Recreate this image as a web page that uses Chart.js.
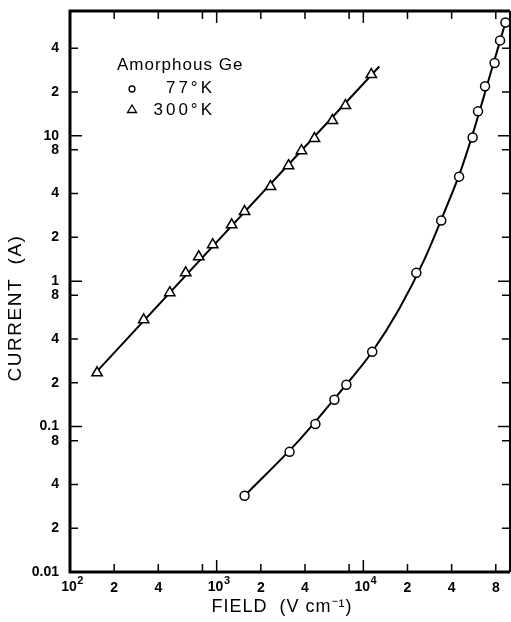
<!DOCTYPE html>
<html>
<head>
<meta charset="utf-8">
<script src="https://cdn.jsdelivr.net/npm/chart.js@4.4.0/dist/chart.umd.min.js"></script>
<style>
body { margin: 0; background: #fff; }
</style>
</head>
<body>
<canvas id="grafico" width="511" height="622"></canvas>
<script>
// measured points, 77 K (circles)
let field77 = [1550, 3140, 4710, 6350, 7660, 11500, 22970, 33970, 44960, 55620, 60540, 67570, 78520, 85540, 93140]
let current77 = [0.0334, 0.067, 0.104, 0.153, 0.194, 0.327, 1.14, 2.61, 5.23, 9.71, 14.7, 21.9, 31.6, 45.2, 60.0]

// measured points, 300 K (triangles)
let field300 = [153, 318, 479, 615, 755, 940, 1265, 1549, 2329, 3090, 3785, 4642, 6150, 7550, 11330]
let current300 = [0.234, 0.542, 0.832, 1.14, 1.47, 1.78, 2.44, 3.01, 4.47, 6.22, 7.88, 9.55, 12.7, 16.1, 26.3]

// drawn curves
let fit300Field = [143, 12850]
let fit300Current = [0.223, 29.9]
let fit77Field = [1549, 3669, 6866, 11500, 17580, 26000, 35560, 46430, 56880, 71970, 93960]
let fit77Current = [0.0334, 0.081, 0.1706, 0.327, 0.646, 1.40, 2.96, 5.85, 11.0, 24.7, 61.9]

// ticks (decade labels on x are drawn as 10 + exponent)
let xTickValues = [100, 200, 400, 800, 1000, 2000, 4000, 8000, 10000, 20000, 40000, 80000]
let xTickLabels = ['', '2', '4', '', '', '2', '4', '', '', '2', '4', '8']
let xDecades = [100, 1000, 10000]
let xDecadeExp = ['2', '3', '4']
let yTickValues = [0.01, 0.02, 0.04, 0.08, 0.1, 0.2, 0.4, 0.8, 1, 2, 4, 8, 10, 20, 40]
let yTickLabels = ['0.01', '2', '4', '8', '0.1', '2', '4', '8', '1', '2', '4', '8', '10', '2', '4']

let xTitle = 'FIELD  (V cm⁻¹)'
let yTitle = 'CURRENT  (A)'
let legendTitle = 'Amorphous Ge'
let legendLabels = ['77°K', '300°K']

function pares(xs, ys) {
    return xs.map((v, i) => ({ x: v, y: ys[i] }))
}

function isDecade(v) {
    let l = Math.log10(v)
    return Math.abs(l - Math.round(l)) < 1e-6
}

// frame with inward ticks on all four sides
let moldura = {
    id: 'moldura',
    beforeDatasetsDraw(chart) {
        let { ctx, chartArea: a, scales } = chart
        ctx.save()
        ctx.strokeStyle = '#000'
        ctx.lineWidth = 1.5
        ctx.beginPath()
        scales.x.ticks.forEach(t => {
            let px = scales.x.getPixelForValue(t.value)
            let len = isDecade(t.value) ? 12 : 8
            ctx.moveTo(px, a.bottom); ctx.lineTo(px, a.bottom - len)
            ctx.moveTo(px, a.top); ctx.lineTo(px, a.top + len)
        })
        scales.y.ticks.forEach(t => {
            let py = scales.y.getPixelForValue(t.value)
            let len = isDecade(t.value) ? 12 : 8
            ctx.moveTo(a.left, py); ctx.lineTo(a.left + len, py)
            ctx.moveTo(a.right, py); ctx.lineTo(a.right - len, py)
        })
        ctx.stroke()
        ctx.lineWidth = 3
        ctx.beginPath()
        ctx.moveTo(a.right, a.top)
        ctx.lineTo(a.left, a.top)
        ctx.lineTo(a.left, a.bottom)
        ctx.lineTo(a.right, a.bottom)
        ctx.stroke()
        ctx.lineWidth = 2
        ctx.beginPath()
        ctx.moveTo(a.right, a.top)
        ctx.lineTo(a.right, a.bottom)
        ctx.stroke()
        ctx.restore()
    }
}

// axis titles, decade labels and the legend box
let textos = {
    id: 'textos',
    afterDraw(chart) {
        let ctx = chart.ctx
        let a = chart.chartArea
        ctx.save()
        ctx.fillStyle = '#000'
        ctx.strokeStyle = '#000'

        // 10^n labels
        ctx.textBaseline = 'alphabetic'
        ctx.textAlign = 'left'
        xDecades.forEach((v, i) => {
            let px = chart.scales.x.getPixelForValue(v)
            ctx.font = 'bold 14px "Liberation Sans"'
            let w = ctx.measureText('10').width
            ctx.font = 'bold 11px "Liberation Sans"'
            let e = ctx.measureText(xDecadeExp[i]).width
            let x0 = px - (w + e) / 2 + 2
            ctx.font = 'bold 14px "Liberation Sans"'
            ctx.fillText('10', x0, a.bottom + 19)
            ctx.font = 'bold 11px "Liberation Sans"'
            ctx.fillText(xDecadeExp[i], x0 + w + 0.5, a.bottom + 12)
        })

        ctx.textBaseline = 'middle'
        ctx.font = '18px "Liberation Sans"'
        ctx.letterSpacing = '1px'
        ctx.textAlign = 'center'
        ctx.fillText(xTitle, 282, 607)
        ctx.save()
        ctx.translate(16, 308)
        ctx.rotate(-Math.PI / 2)
        ctx.font = '19px "Liberation Sans"'
        ctx.letterSpacing = '1.5px'
        ctx.fillText(yTitle, 0, 0)
        ctx.restore()

        ctx.font = '17px "Liberation Sans"'
        ctx.letterSpacing = '1px'
        ctx.textAlign = 'left'
        ctx.fillText(legendTitle, 117, 65)
        ctx.letterSpacing = '3px'
        ctx.textAlign = 'right'
        ctx.fillText(legendLabels[0], 215, 88)
        ctx.fillText(legendLabels[1], 215, 110)
        ctx.lineWidth = 1.3
        ctx.beginPath()
        ctx.arc(132, 89, 3, 0, Math.PI * 2)
        ctx.stroke()
        ctx.beginPath()
        ctx.moveTo(132, 105)
        ctx.lineTo(136.5, 112.5)
        ctx.lineTo(127.5, 112.5)
        ctx.closePath()
        ctx.stroke()
        ctx.restore()
    }
}

let tickFont = { family: '"Liberation Sans"', size: 14, weight: 'bold' }

let ctx = document.getElementById('grafico').getContext('2d')
new Chart(ctx, {
    type: 'scatter',
    data: {
        datasets: [{
            label: '77°K',
            data: pares(field77, current77),
            pointStyle: 'circle',
            pointRadius: 4.5,
            pointBorderWidth: 1.5,
            pointBackgroundColor: '#fff',
            pointBorderColor: '#000',
            showLine: false,
            clip: false,
            order: 1
        }, {
            label: '300°K',
            data: pares(field300, current300),
            pointStyle: 'triangle',
            pointRadius: 6,
            pointBorderWidth: 1.5,
            pointBackgroundColor: '#fff',
            pointBorderColor: '#000',
            showLine: false,
            order: 1
        }, {
            label: 'fit 300',
            data: pares(fit300Field, fit300Current),
            showLine: true,
            borderColor: '#000',
            borderWidth: 2,
            pointRadius: 0,
            order: 2
        }, {
            label: 'fit 77',
            data: pares(fit77Field, fit77Current),
            showLine: true,
            borderColor: '#000',
            borderWidth: 2,
            pointRadius: 0,
            cubicInterpolationMode: 'monotone',
            order: 2
        }]
    },
    options: {
        responsive: false,
        animation: false,
        layout: { autoPadding: false, padding: { top: 11, right: 1, left: 0, bottom: 0 } },
        plugins: {
            legend: { display: false },
            tooltip: { enabled: false }
        },
        scales: {
            x: {
                type: 'logarithmic',
                min: 100,
                max: 100000,
                afterFit: s => {
                    s.height = 50
                    s.paddingLeft = 0
                    s.paddingRight = 0
                },
                afterBuildTicks: s => { s.ticks = xTickValues.map(v => ({ value: v })) },
                grid: { display: false, drawTicks: false },
                border: { display: false },
                ticks: {
                    autoSkip: false,
                    maxRotation: 0,
                    padding: 8,
                    color: '#000',
                    font: tickFont,
                    callback: (v, i) => xTickLabels[i]
                }
            },
            y: {
                type: 'logarithmic',
                min: 0.01,
                max: 72,
                afterFit: s => {
                    s.width = 70
                    s.paddingTop = 0
                    s.paddingBottom = 0
                },
                afterBuildTicks: s => { s.ticks = yTickValues.map(v => ({ value: v })) },
                grid: { display: false, drawTicks: false },
                border: { display: false },
                ticks: {
                    autoSkip: false,
                    padding: 11,
                    color: '#000',
                    font: tickFont,
                    callback: (v, i) => yTickLabels[i]
                }
            }
        }
    },
    plugins: [moldura, textos]
})
</script>
</body>
</html>
